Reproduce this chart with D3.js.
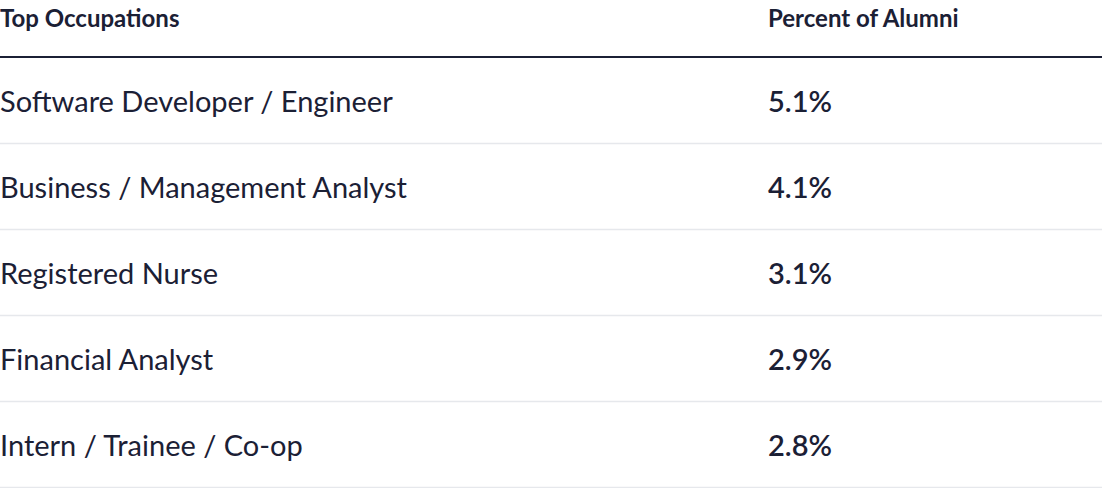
<!doctype html>
<html lang="en">
<head>
<meta charset="utf-8">
<title>Top Occupations</title>
<script src="https://cdn.jsdelivr.net/npm/d3@7"></script>
<style>
  body { margin: 0; background: #fff; }
  text { font-family: Lato, "Noto Sans", sans-serif; fill: #1b2035; }
</style>
</head>
<body>
<script>
var headers = ["Top Occupations", "Percent of Alumni"];
var occupations = ["Software Developer / Engineer", "Business / Management Analyst",
                   "Registered Nurse", "Financial Analyst", "Intern / Trainee / Co-op"];
var percents = [5.1, 4.1, 3.1, 2.9, 2.8];

var width = 1102, height = 488;
var svg = d3.select("body").append("svg").attr("width", width).attr("height", height);

var y = d3.scaleBand().domain(occupations).range([58, 488]);

// header
svg.append("text").attr("x", 0).attr("y", 27).attr("font-size", 24).attr("font-weight", 700)
   .text(headers[0]);
svg.append("text").attr("x", 768).attr("y", 27).attr("font-size", 24).attr("font-weight", 700)
   .text(headers[1]);
svg.append("line").attr("x1", 0).attr("x2", width).attr("y1", 57).attr("y2", 57)
   .attr("stroke", "#1b2035").attr("stroke-width", 2);

var rows = svg.append("g").selectAll("g")
    .data(occupations.map(function(d, i){ return {name: d, pct: percents[i]}; }))
    .enter().append("g")
    .attr("transform", function(d){ return "translate(0," + y(d.name) + ")"; });

rows.append("text").attr("x", 0).attr("y", y.bandwidth() / 2 + 11)
    .attr("font-size", 29).text(function(d){ return d.name; });
rows.append("text").attr("x", 768).attr("y", y.bandwidth() / 2 + 11)
    .attr("font-size", 29).attr("font-weight", 600)
    .text(function(d){ return d.pct.toFixed(1) + "%"; });
rows.append("line").attr("x1", 0).attr("x2", width)
    .attr("y1", y.bandwidth() - 0.5).attr("y2", y.bandwidth() - 0.5)
    .attr("stroke", "#e6e8ec").attr("stroke-width", 1.5);
</script>
</body>
</html>
